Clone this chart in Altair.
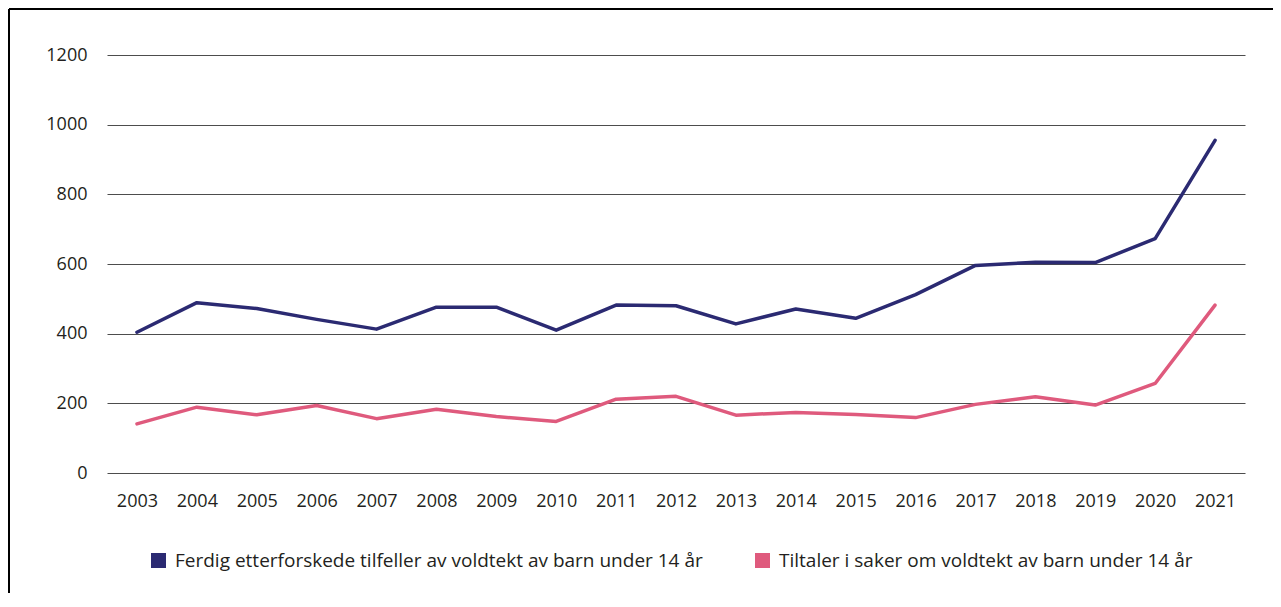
import altair as alt
import pandas as pd

years = list(range(2003, 2022))
ferdig = [404, 489, 472, 441, 413, 476, 476, 410, 482, 480, 428, 471, 444, 512, 596, 605, 604, 673, 955]
tiltaler = [141, 189, 167, 194, 156, 183, 162, 148, 212, 220, 166, 174, 168, 159, 197, 219, 195, 257, 482]
series_names = [
    "Ferdig etterforskede tilfeller av voldtekt av barn under 14 år",
    "Tiltaler i saker om voldtekt av barn under 14 år",
]
series_colors = ["#2b2a72", "#df5a7d"]
y_ticks = [0, 200, 400, 600, 800, 1000, 1200]

rows = []
for name, vals in zip(series_names, [ferdig, tiltaler]):
    for yr, v in zip(years, vals):
        rows.append({"year": yr, "value": v, "series": name})
df = pd.DataFrame(rows)

FONT = "Open Sans"
TXT = "#231f20"

lines = alt.Chart(df).mark_line(strokeWidth=3.5, strokeJoin="round", strokeCap="round").encode(
    x=alt.X("year:Q", scale=alt.Scale(domain=[2002.5, 2021.5], nice=False, zero=False),
            axis=alt.Axis(values=years, format="d", title=None, grid=False, domain=False,
                          ticks=False, labelPadding=19, labelFontSize=18, labelFont=FONT,
                          labelColor=TXT)),
    y=alt.Y("value:Q", scale=alt.Scale(domain=[0, 1200], nice=False),
            axis=alt.Axis(values=y_ticks, format="d", title=None, grid=True,
                          gridColor="#4d4d4d", gridWidth=1, domain=False, ticks=False,
                          labelPadding=20, labelFontSize=18, labelFont=FONT, labelColor=TXT)),
    color=alt.Color("series:N", scale=alt.Scale(domain=series_names, range=series_colors),
                    legend=alt.Legend(title=None, orient="none", legendX=42, legendY=496,
                                      direction="horizontal", symbolType="square",
                                      symbolSize=1, symbolStrokeWidth=14, symbolOpacity=1,
                                      labelFontSize=19, labelFont=FONT, labelColor=TXT,
                                      labelOffset=7, columnPadding=31, labelLimit=800)),
)

frame = pd.DataFrame({"k": [0]})
left_border = alt.Chart(frame).mark_rule(color="black", strokeWidth=2).encode(
    x=alt.value(-98), y=alt.value(-46), y2=alt.value(540))
top_border = alt.Chart(frame).mark_rule(color="black", strokeWidth=2).encode(
    x=alt.value(-98), x2=alt.value(1166), y=alt.value(-46))

chart = alt.layer(lines, left_border, top_border).properties(
    width=1138, height=418,
    autosize=alt.AutoSizeParams(type="none"),
    padding={"left": 99, "top": 47, "right": 28, "bottom": 120},
).configure_view(stroke=None)

chart.save("out.html", embed_options={"renderer": "svg", "actions": False})
